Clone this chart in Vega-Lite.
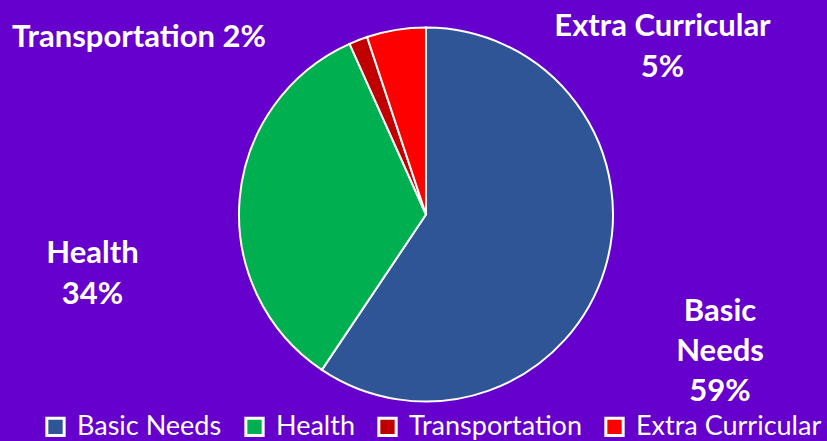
{
  "$schema": "https://vega.github.io/schema/vega-lite/v6.json",
  "width": 802,
  "height": 429,
  "autosize": {"type": "none"},
  "padding": {"left": 25, "top": 0, "right": 0, "bottom": 12},
  "background": "#6600CC",
  "config": {"view": {"stroke": null}, "font": "Lato"},
  "data": {
    "values": [
      {"category": "Basic Needs", "value": 59.4},
      {"category": "Health", "value": 33.9},
      {"category": "Transportation", "value": 1.6},
      {"category": "Extra Curricular", "value": 5.1}
    ]
  },
  "transform": [
    {"window": [{"op": "row_number", "as": "idx"}]},
    {"joinaggregate": [{"op": "sum", "field": "value", "as": "total"}]},
    {"calculate": "format(datum.value / datum.total * 100, '.0f') + '%'", "as": "pct"},
    {"calculate": "datum.category === 'Transportation' ? datum.category + ' ' + datum.pct : (datum.category === 'Basic Needs' ? replace(datum.category, ' ', '\\n') : datum.category) + '\\n' + datum.pct", "as": "label"}
  ],
  "encoding": {
    "theta": {"field": "value", "type": "quantitative", "stack": true},
    "order": {"field": "idx", "type": "quantitative"}
  },
  "layer": [
    {
      "mark": {"type": "arc", "outerRadius": 187, "stroke": "white", "strokeWidth": 2},
      "encoding": {
        "color": {
          "field": "category",
          "type": "nominal",
          "scale": {
            "domain": ["Basic Needs", "Health", "Transportation", "Extra Curricular"],
            "range": ["#2F5597", "#00B050", "#C00000", "#FF0000"]
          },
          "legend": {
            "title": null,
            "orient": "none",
            "direction": "horizontal",
            "legendX": 17,
            "legendY": 413,
            "padding": 0,
            "symbolType": "square",
            "symbolSize": 300,
            "symbolStrokeColor": "white",
            "symbolStrokeWidth": 3,
            "symbolOpacity": 1,
            "labelFont": "Lato",
            "labelFontSize": 27,
            "labelColor": "white",
            "labelOffset": 8,
            "columnPadding": 17,
            "labelLimit": 400
          }
        }
      }
    },
    {
      "mark": {"type": "text", "radius": 200, "dx": 102.7, "dy": 48.3, "align": "center", "baseline": "alphabetic", "lineBreak": "\n", "lineHeight": 40, "font": "Lato", "fontWeight": "bold", "fontSize": 31, "color": "white"},
      "encoding": {"text": {"condition": {"test": "datum.category === 'Basic Needs'", "field": "label"}, "value": ""}}
    },
    {
      "mark": {"type": "text", "radius": 200, "dx": -134.2, "dy": 65.4, "align": "center", "baseline": "alphabetic", "lineBreak": "\n", "lineHeight": 41, "font": "Lato", "fontWeight": "bold", "fontSize": 31, "color": "white"},
      "encoding": {"text": {"condition": {"test": "datum.category === 'Health'", "field": "label"}, "value": ""}}
    },
    {
      "mark": {"type": "text", "radius": 200, "dx": -214.5, "dy": 18.9, "align": "center", "baseline": "alphabetic", "lineBreak": "\n", "lineHeight": 41, "font": "Lato", "fontWeight": "bold", "fontSize": 31, "color": "white"},
      "encoding": {"text": {"condition": {"test": "datum.category === 'Transportation'", "field": "label"}, "value": ""}}
    },
    {
      "mark": {"type": "text", "radius": 200, "dx": 268.4, "dy": 18.9, "align": "center", "baseline": "alphabetic", "lineBreak": "\n", "lineHeight": 41, "font": "Lato", "fontWeight": "bold", "fontSize": 31, "color": "white"},
      "encoding": {"text": {"condition": {"test": "datum.category === 'Extra Curricular'", "field": "label"}, "value": ""}}
    }
  ]
}
